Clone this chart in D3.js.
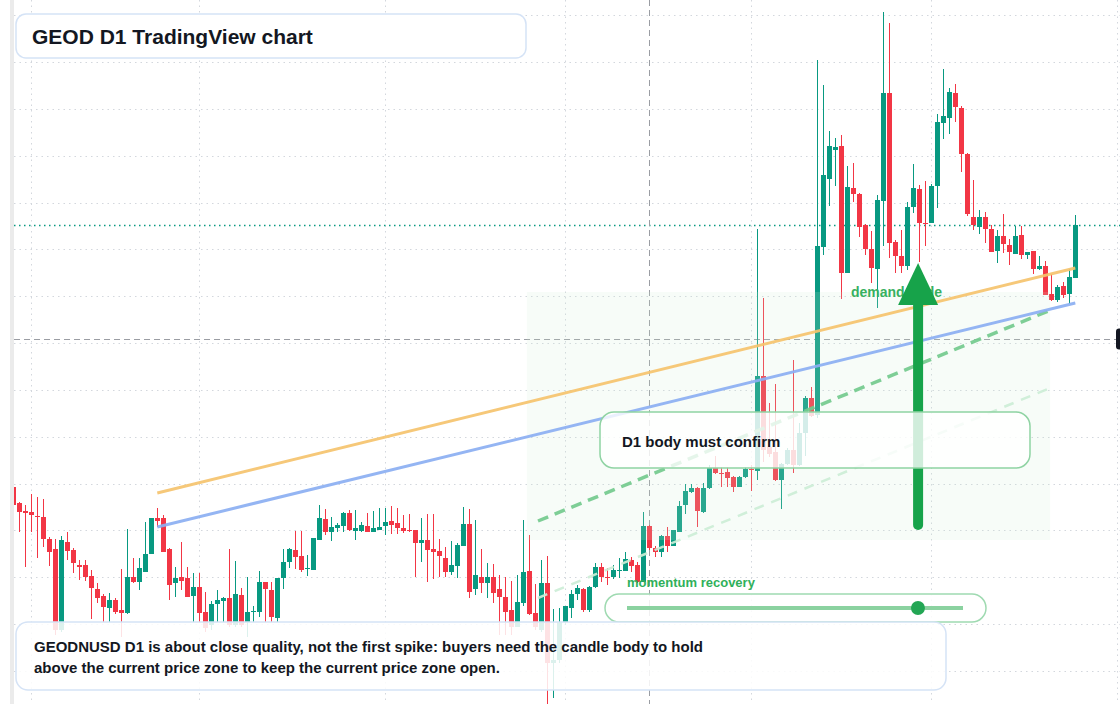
<!DOCTYPE html>
<html>
<head>
<meta charset="utf-8">
<title>GEOD D1 TradingView chart</title>
<script src="https://cdn.jsdelivr.net/npm/d3@7"></script>
<style>
  body { margin: 0; background: #fff; }
  svg { display: block; font-family: "Liberation Sans", Arial, sans-serif; }
</style>
</head>
<body>
<div id="chart"></div>
<script>
// daily candles (first candle = 29 Jan)
var opens = [
  .513, .497, .489, .488, .484, .483, .461, .451, .370, .458,
  .450, .435, .435, .424, .411, .404, .392, .400, .390, .387,
  .423, .418, .428, .446, .482, .482, .451, .417, .423, .422,
  .404, .413, .388, .375, .396, .399, .402, .375, .405, .378,
  .388, .388, .418, .410, .382, .422, .438, .450, .444, .431,
  .430, .460, .481, .468, .472, .474, .487, .469, .469, .474,
  .468, .470, .474, .479, .477, .472, .470, .470, .457, .460,
  .451, .449, .442, .428, .434, .454, .476, .411, .423, .417,
  .423, .411, .403, .390, .373, .397, .429, .387, .370, .417,
  .337, .340, .378, .392, .406, .411, .390, .413, .433, .423,
  .423, .429, .429, .440, .435, .418, .474, .452, .448, .464,
  .454, .468, .495, .508, .512, .488, .512, .532, .527, .528,
  .523, .513, .523, .531, .529, .624, .553, .548, .520, .536,
  .550, .535, .567, .602, .585, .753, .821, .850, .854, .727,
  .812, .806, .775, .751, .731, .799, .907, .758, .744, .734,
  .793, .811, .777, .777, .814, .877, .882, .907, .892, .846,
  .783, .773, .783, .771, .749, .764, .755, .746, .765, .745,
  .749, .731, .734, .706, .700, .714, .706, .722
];
var highs = [
  .514, .498, .495, .506, .503, .501, .463, .461, .464, .468,
  .452, .440, .440, .430, .417, .406, .407, .402, .431, .471,
  .442, .442, .478, .482, .492, .485, .452, .433, .458, .433,
  .427, .427, .408, .399, .410, .403, .451, .439, .412, .423,
  .394, .429, .418, .418, .422, .451, .452, .469, .469, .445,
  .462, .495, .491, .483, .477, .488, .490, .490, .478, .487,
  .489, .492, .492, .494, .492, .485, .486, .470, .482, .486,
  .486, .461, .453, .459, .457, .493, .491, .480, .451, .437,
  .436, .425, .423, .419, .425, .480, .465, .416, .440, .444,
  .391, .392, .394, .410, .415, .412, .414, .437, .437, .432,
  .435, .442, .448, .443, .438, .488, .475, .454, .465, .473,
  .470, .499, .516, .516, .513, .517, .535, .544, .533, .533,
  .524, .524, .533, .535, .771, .702, .597, .616, .537, .552,
  .640, .577, .604, .613, .940, .915, .869, .862, .865, .834,
  .837, .807, .776, .769, .805, .988, .977, .760, .770, .798,
  .836, .815, .819, .816, .886, .931, .912, .916, .894, .847,
  .820, .790, .788, .775, .770, .786, .761, .774, .774, .748,
  .749, .744, .739, .726, .715, .718, .731, .785
];
var lows = [
  .492, .468, .433, .468, .442, .453, .434, .365, .368, .440,
  .427, .420, .419, .381, .397, .378, .378, .386, .363, .386,
  .417, .410, .428, .446, .473, .448, .400, .403, .410, .403,
  .378, .378, .368, .370, .378, .378, .373, .373, .373, .363,
  .378, .383, .378, .378, .378, .411, .432, .431, .428, .424,
  .430, .460, .465, .459, .468, .468, .469, .460, .468, .468,
  .468, .470, .465, .466, .466, .467, .468, .423, .438, .418,
  .421, .423, .423, .425, .422, .454, .402, .405, .407, .402,
  .397, .365, .365, .365, .373, .394, .385, .370, .368, .296,
  .302, .337, .375, .382, .400, .388, .388, .412, .418, .415,
  .421, .422, .429, .428, .417, .418, .450, .443, .443, .448,
  .454, .468, .486, .507, .473, .487, .511, .526, .513, .513,
  .508, .513, .522, .509, .520, .538, .543, .519, .491, .535,
  .527, .534, .544, .583, .582, .745, .794, .814, .701, .727,
  .798, .763, .745, .717, .692, .754, .742, .727, .727, .730,
  .787, .738, .754, .777, .792, .861, .866, .878, .828, .784,
  .770, .766, .757, .748, .737, .747, .735, .746, .741, .741,
  .726, .730, .705, .699, .698, .702, .696, .722
];
var closes = [
  .495, .488, .487, .485, .483, .461, .448, .370, .460, .449,
  .437, .433, .423, .412, .402, .393, .400, .388, .387, .423,
  .418, .432, .446, .482, .479, .448, .415, .422, .419, .403,
  .413, .387, .372, .396, .400, .402, .375, .406, .375, .388,
  .389, .418, .411, .383, .422, .438, .451, .443, .430, .432,
  .462, .482, .468, .473, .475, .487, .470, .472, .475, .468,
  .472, .473, .478, .475, .472, .469, .469, .457, .460, .450,
  .448, .444, .428, .435, .455, .476, .408, .425, .417, .423,
  .407, .403, .388, .373, .398, .428, .386, .373, .417, .337,
  .340, .378, .394, .406, .412, .390, .413, .433, .423, .422,
  .430, .430, .441, .434, .418, .474, .452, .448, .464, .454,
  .470, .494, .509, .512, .489, .512, .532, .527, .526, .522,
  .513, .523, .531, .530, .624, .550, .546, .520, .536, .550,
  .535, .567, .602, .584, .754, .825, .854, .853, .727, .813,
  .806, .773, .751, .732, .800, .907, .757, .744, .734, .793,
  .812, .777, .776, .814, .878, .884, .908, .893, .846, .786,
  .775, .783, .771, .748, .764, .756, .748, .764, .745, .748,
  .731, .734, .705, .700, .713, .705, .723, .775
];

// horizontal grid levels of the price scale
var gridPrices = [0.9845, 0.9377, 0.8909, 0.8441, 0.7973, 0.7505, 0.7037, 0.6569,
                  0.6101, 0.5633, 0.5165, 0.4697, 0.4229, 0.3761, 0.3293];

// drawings, in candle index / price
var trendLines = [
  {name: 'momentumLow', from: [87.45, 0.402], to: [172.8, 0.612]},
  {name: 'momentum', from: [87.45, 0.479], to: [172.5, 0.689]},
  {name: 'support', from: [24, 0.473], to: [177, 0.697]},
  {name: 'resistance', from: [24, 0.507], to: [177, 0.732]}
];
var demandZone = {from: 85.6, to: 172.8, top: 0.708, bottom: 0.460};
var signalArrow = {at: 150.8, from: 0.475, to: 0.737};
var crosshair = {index: 106, price: 0.661};
var momentumValue = 0.866;

var width = 1120, height = 704;
var startDay = new Date(Date.UTC(2025, 0, 29));
var dates = opens.map(function(d, i) { return d3.utcDay.offset(startDay, i); });

var x = d3.scaleUtc()
  .domain([dates[0], dates[dates.length - 1]])
  .range([13.3, 1075.3]);
var y = d3.scaleLinear().domain([0.296, 1.0]).range([704, 0]);

// x position for a (fractional) candle index
function xi(i) {
  return x(new Date(startDay.getTime() + i * 864e5));
}

var candles = dates.map(function(d, i) {
  return {date: d, open: opens[i], high: highs[i], low: lows[i], close: closes[i]};
});

var upColor = '#089981', downColor = '#f23645';

var svg = d3.select('#chart')
  .append('svg')
  .attr('width', width)
  .attr('height', height);

svg.append('rect').attr('width', width).attr('height', height).attr('fill', '#fff');

svg.append('clipPath').attr('id', 'pane')
  .append('rect').attr('x', 14).attr('y', 0).attr('width', width - 14).attr('height', height);

var pane = svg.append('g').attr('clip-path', 'url(#pane)');

// grid
pane.selectAll('.hgrid')
  .data(gridPrices)
  .enter().append('line')
  .attr('x1', 14).attr('x2', width)
  .attr('y1', function(d) { return Math.round(y(d)) + 0.5; })
  .attr('y2', function(d) { return Math.round(y(d)) + 0.5; })
  .attr('stroke', '#d3d7dd')
  .attr('stroke-dasharray', '1.5,4');

var months = d3.utcMonth.range(startDay, d3.utcDay.offset(startDay, 190));
pane.selectAll('.vgrid')
  .data(months)
  .enter().append('line')
  .attr('x1', function(d) { return Math.round(x(d)) + 0.5; })
  .attr('x2', function(d) { return Math.round(x(d)) + 0.5; })
  .attr('y1', 0).attr('y2', height)
  .attr('stroke', '#d3d7dd')
  .attr('stroke-dasharray', '1.5,4');

// last price line
var lastY = Math.round(y(closes[closes.length - 1])) + 0.5;
pane.append('line')
  .attr('x1', 14).attr('x2', width)
  .attr('y1', lastY).attr('y2', lastY)
  .attr('stroke', upColor)
  .attr('stroke-width', 1.3)
  .attr('stroke-dasharray', '1.5,3.5');

// crosshair
var chX = Math.round(xi(crosshair.index)) + 0.5;
var chY = Math.round(y(crosshair.price)) + 0.5;
pane.append('line')
  .attr('x1', 14).attr('x2', 1116)
  .attr('y1', chY).attr('y2', chY)
  .attr('stroke', '#9a9da3')
  .attr('stroke-dasharray', '6,4');
pane.append('line')
  .attr('x1', chX).attr('x2', chX)
  .attr('y1', 0).attr('y2', height)
  .attr('stroke', '#9a9da3')
  .attr('stroke-dasharray', '6,4');

// candles
var candle = pane.selectAll('.candle')
  .data(candles)
  .enter().append('g')
  .attr('fill', function(d) { return d.close >= d.open ? upColor : downColor; })
  .attr('stroke', function(d) { return d.close >= d.open ? upColor : downColor; });

candle.append('line')
  .attr('x1', function(d) { return Math.round(x(d.date)) + 0.5; })
  .attr('x2', function(d) { return Math.round(x(d.date)) + 0.5; })
  .attr('y1', function(d) { return y(d.high); })
  .attr('y2', function(d) { return y(d.low); })
  .attr('stroke-width', 1);

candle.append('rect')
  .attr('stroke', 'none')
  .attr('x', function(d) { return Math.round(x(d.date)) - 2; })
  .attr('width', 5)
  .attr('y', function(d) { return y(Math.max(d.open, d.close)); })
  .attr('height', function(d) { return Math.max(1, Math.abs(y(d.open) - y(d.close))); });

// demand zone shading
pane.append('rect')
  .attr('x', xi(demandZone.from))
  .attr('width', xi(demandZone.to) - xi(demandZone.from))
  .attr('y', y(demandZone.top))
  .attr('height', y(demandZone.bottom) - y(demandZone.top))
  .attr('fill', '#cdeed5')
  .attr('opacity', 0.17);

// trend lines
var lineStyle = {
  momentumLow: {color: '#cdeed7', width: 2.5, dash: '10,8'},
  momentum: {color: '#74cb8e', width: 3.5, dash: '11,7'},
  support: {color: '#8caff3', width: 3, dash: null},
  resistance: {color: '#f6c46e', width: 3, dash: null}
};
pane.selectAll('.trend')
  .data(trendLines)
  .enter().append('line')
  .attr('x1', function(d) { return xi(d.from[0]); })
  .attr('y1', function(d) { return y(d.from[1]); })
  .attr('x2', function(d) { return xi(d.to[0]); })
  .attr('y2', function(d) { return y(d.to[1]); })
  .attr('stroke', function(d) { return lineStyle[d.name].color; })
  .attr('stroke-width', function(d) { return lineStyle[d.name].width; })
  .attr('stroke-dasharray', function(d) { return lineStyle[d.name].dash; })
  .attr('opacity', 0.92);

// demand node label + arrow
svg.append('text')
  .attr('x', 851).attr('y', 297)
  .attr('font-size', 14).attr('font-weight', 700)
  .attr('fill', '#38b060')
  .text('demand node');

var ax = xi(signalArrow.at);
var tipY = y(signalArrow.to);
svg.append('line')
  .attr('x1', ax).attr('x2', ax)
  .attr('y1', y(signalArrow.from)).attr('y2', tipY + 38)
  .attr('stroke', '#17a34a')
  .attr('stroke-width', 10)
  .attr('stroke-linecap', 'round');
svg.append('path')
  .attr('d', 'M' + (ax - 20) + ',' + (tipY + 42) + 'L' + ax + ',' + tipY + 'L' + (ax + 20) + ',' + (tipY + 42) + 'Z')
  .attr('fill', '#17a34a');

// D1 confirm box
svg.append('rect')
  .attr('x', 600).attr('y', 412).attr('width', 430).attr('height', 56).attr('rx', 14)
  .attr('fill', '#fff').attr('fill-opacity', 0.8)
  .attr('stroke', '#8fd3a3').attr('stroke-width', 1.5);
svg.append('text')
  .attr('x', 622).attr('y', 447)
  .attr('font-size', 15).attr('font-weight', 700)
  .attr('fill', '#131722')
  .text('D1 body must confirm');

// momentum recovery gauge
svg.append('text')
  .attr('x', 627).attr('y', 587)
  .attr('font-size', 13).attr('font-weight', 700)
  .attr('fill', '#2fb05a')
  .text('momentum recovery');
svg.append('rect')
  .attr('x', 605).attr('y', 594).attr('width', 381).attr('height', 28).attr('rx', 14)
  .attr('fill', '#fff').attr('fill-opacity', 0.85)
  .attr('stroke', '#9fdab1').attr('stroke-width', 1.5);
var gauge = d3.scaleLinear().domain([0, 1]).range([627, 963]);
svg.append('line')
  .attr('x1', gauge(0)).attr('x2', gauge(1))
  .attr('y1', 608).attr('y2', 608)
  .attr('stroke', '#8bd2a0').attr('stroke-width', 4);
svg.append('circle')
  .attr('cx', gauge(momentumValue)).attr('cy', 608).attr('r', 7)
  .attr('fill', '#23a654');

// title box
svg.append('rect')
  .attr('x', 16).attr('y', 14).attr('width', 510).attr('height', 44).attr('rx', 10)
  .attr('fill', '#fff')
  .attr('stroke', '#d5e3f6').attr('stroke-width', 1.5);
svg.append('text')
  .attr('x', 32).attr('y', 43.5)
  .attr('font-size', 21).attr('font-weight', 700)
  .attr('fill', '#131722')
  .text('GEOD D1 TradingView chart');

// bottom note
svg.append('rect')
  .attr('x', 16).attr('y', 622).attr('width', 930).attr('height', 68).attr('rx', 12)
  .attr('fill', '#fff').attr('fill-opacity', 0.86)
  .attr('stroke', '#d5e3f6').attr('stroke-width', 1.5);
var note = svg.append('text')
  .attr('font-size', 15).attr('font-weight', 700)
  .attr('fill', '#131722');
note.append('tspan').attr('x', 34).attr('y', 652)
  .text('GEODNUSD D1 is about close quality, not the first spike: buyers need the candle body to hold');
note.append('tspan').attr('x', 34).attr('y', 673)
  .text('above the current price zone to keep the current price zone open.');

// left edge strip and cut-off price label
svg.append('rect').attr('x', 10).attr('y', 0).attr('width', 4).attr('height', height).attr('fill', '#ebebeb');
svg.append('rect')
  .attr('x', 1116).attr('y', chY - 11).attr('width', 12).attr('height', 21).attr('rx', 3)
  .attr('fill', '#131722');
</script>
</body>
</html>
